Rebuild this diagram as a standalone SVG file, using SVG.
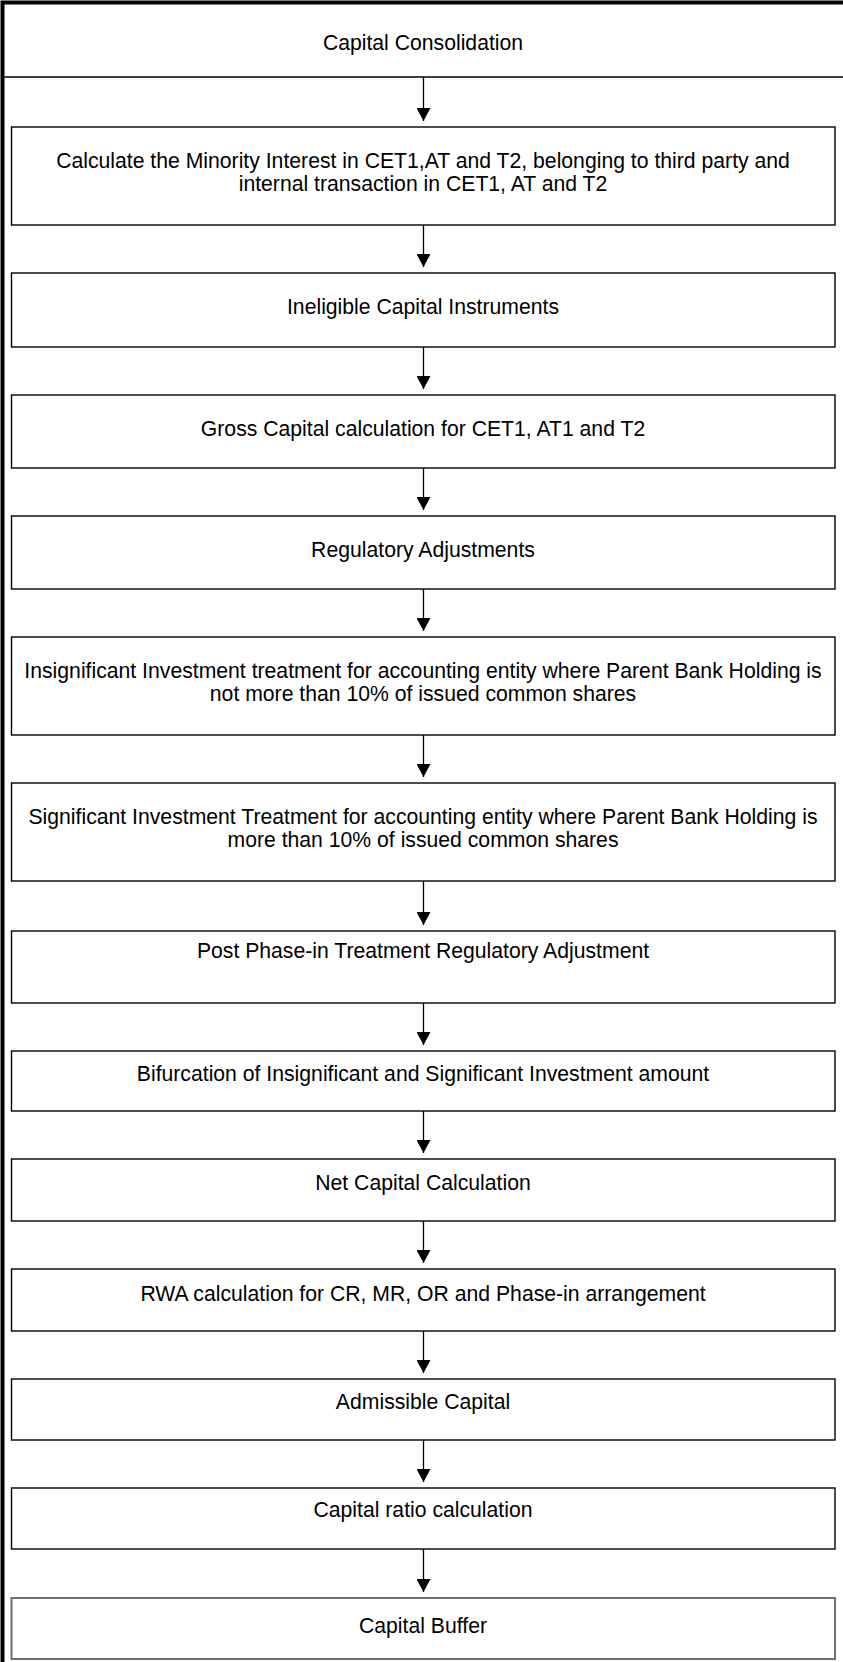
<svg xmlns="http://www.w3.org/2000/svg" width="843" height="1662" viewBox="0 0 843 1662">
  <style>
    .box { fill: #ffffff; stroke: #000000; stroke-width: 1.4; }
    .box-last { fill: #ffffff; stroke: #707070; stroke-width: 2; }
    .label { font-family: "Liberation Sans", Arial, sans-serif; font-size: 21.2px; fill: #000000; text-anchor: middle; }
    .conn { stroke: #000000; stroke-width: 1.3; fill: none; marker-end: url(#arrow); }
  </style>
  <defs>
    <marker id="arrow" viewBox="0 0 13 14" refX="13" refY="7" markerWidth="13" markerHeight="14" markerUnits="userSpaceOnUse" orient="auto">
      <path d="M0,0 L13,7 L0,14 Z" fill="#000000"/>
    </marker>
  </defs>

  <rect x="0" y="0" width="843" height="1662" fill="#ffffff"/>

  <!-- outer frame and header band -->
  <g id="frame">
    <path d="M2.5,1662 V2.5 H843" fill="none" stroke="#000000" stroke-width="4"/>
    <line x1="4" y1="77" x2="843" y2="77" stroke="#000000" stroke-width="1.3"/>
  </g>

  <g id="header">
    <text class="label" x="423" y="50">Capital Consolidation</text>
  </g>

  <g id="minority-interest">
    <rect class="box" x="11.5" y="127" width="823.5" height="98"/>
    <text class="label" x="423" y="168">Calculate the Minority Interest in CET1,AT and T2, belonging to third party and</text>
    <text class="label" x="423" y="191">internal transaction in CET1, AT and T2</text>
  </g>

  <g id="ineligible-instruments">
    <rect class="box" x="11.5" y="273" width="823.5" height="74"/>
    <text class="label" x="423" y="314">Ineligible Capital Instruments</text>
  </g>

  <g id="gross-capital">
    <rect class="box" x="11.5" y="395" width="823.5" height="73"/>
    <text class="label" x="423" y="436">Gross Capital calculation for CET1, AT1 and T2</text>
  </g>

  <g id="regulatory-adjustments">
    <rect class="box" x="11.5" y="516" width="823.5" height="73"/>
    <text class="label" x="423" y="557">Regulatory Adjustments</text>
  </g>

  <g id="insignificant-investment">
    <rect class="box" x="11.5" y="637" width="823.5" height="98"/>
    <text class="label" x="423" y="678">Insignificant Investment treatment for accounting entity where Parent Bank Holding is</text>
    <text class="label" x="423" y="701">not more than 10% of issued common shares</text>
  </g>

  <g id="significant-investment">
    <rect class="box" x="11.5" y="783" width="823.5" height="98"/>
    <text class="label" x="423" y="824">Significant Investment Treatment for accounting entity where Parent Bank Holding is</text>
    <text class="label" x="423" y="847">more than 10% of issued common shares</text>
  </g>

  <g id="post-phase-in">
    <rect class="box" x="11.5" y="931" width="823.5" height="72"/>
    <text class="label" x="423" y="957.5">Post Phase-in Treatment Regulatory Adjustment</text>
  </g>

  <g id="bifurcation">
    <rect class="box" x="11.5" y="1051" width="823.5" height="60"/>
    <text class="label" x="423" y="1080.5">Bifurcation of Insignificant and Significant Investment amount</text>
  </g>

  <g id="net-capital">
    <rect class="box" x="11.5" y="1159" width="823.5" height="62"/>
    <text class="label" x="423" y="1189.5">Net Capital Calculation</text>
  </g>

  <g id="rwa">
    <rect class="box" x="11.5" y="1269" width="823.5" height="62"/>
    <text class="label" x="423" y="1300.5">RWA calculation for CR, MR, OR and Phase-in arrangement</text>
  </g>

  <g id="admissible-capital">
    <rect class="box" x="11.5" y="1379" width="823.5" height="61"/>
    <text class="label" x="423" y="1408.5">Admissible Capital</text>
  </g>

  <g id="capital-ratio">
    <rect class="box" x="11.5" y="1488" width="823.5" height="61"/>
    <text class="label" x="423" y="1516.5">Capital ratio calculation</text>
  </g>

  <g id="capital-buffer">
    <rect class="box-last" x="11.5" y="1598" width="823.5" height="61"/>
    <text class="label" x="423" y="1633">Capital Buffer</text>
  </g>

  <!-- flow connectors -->
  <g id="connectors">
    <line class="conn" x1="423.5" y1="77" x2="423.5" y2="121"/>
    <line class="conn" x1="423.5" y1="225" x2="423.5" y2="267"/>
    <line class="conn" x1="423.5" y1="347" x2="423.5" y2="389"/>
    <line class="conn" x1="423.5" y1="468" x2="423.5" y2="510"/>
    <line class="conn" x1="423.5" y1="589" x2="423.5" y2="631"/>
    <line class="conn" x1="423.5" y1="735" x2="423.5" y2="777"/>
    <line class="conn" x1="423.5" y1="881" x2="423.5" y2="925"/>
    <line class="conn" x1="423.5" y1="1003" x2="423.5" y2="1045"/>
    <line class="conn" x1="423.5" y1="1111" x2="423.5" y2="1153"/>
    <line class="conn" x1="423.5" y1="1221" x2="423.5" y2="1263"/>
    <line class="conn" x1="423.5" y1="1331" x2="423.5" y2="1373"/>
    <line class="conn" x1="423.5" y1="1440" x2="423.5" y2="1482"/>
    <line class="conn" x1="423.5" y1="1549" x2="423.5" y2="1592"/>
  </g>
</svg>
